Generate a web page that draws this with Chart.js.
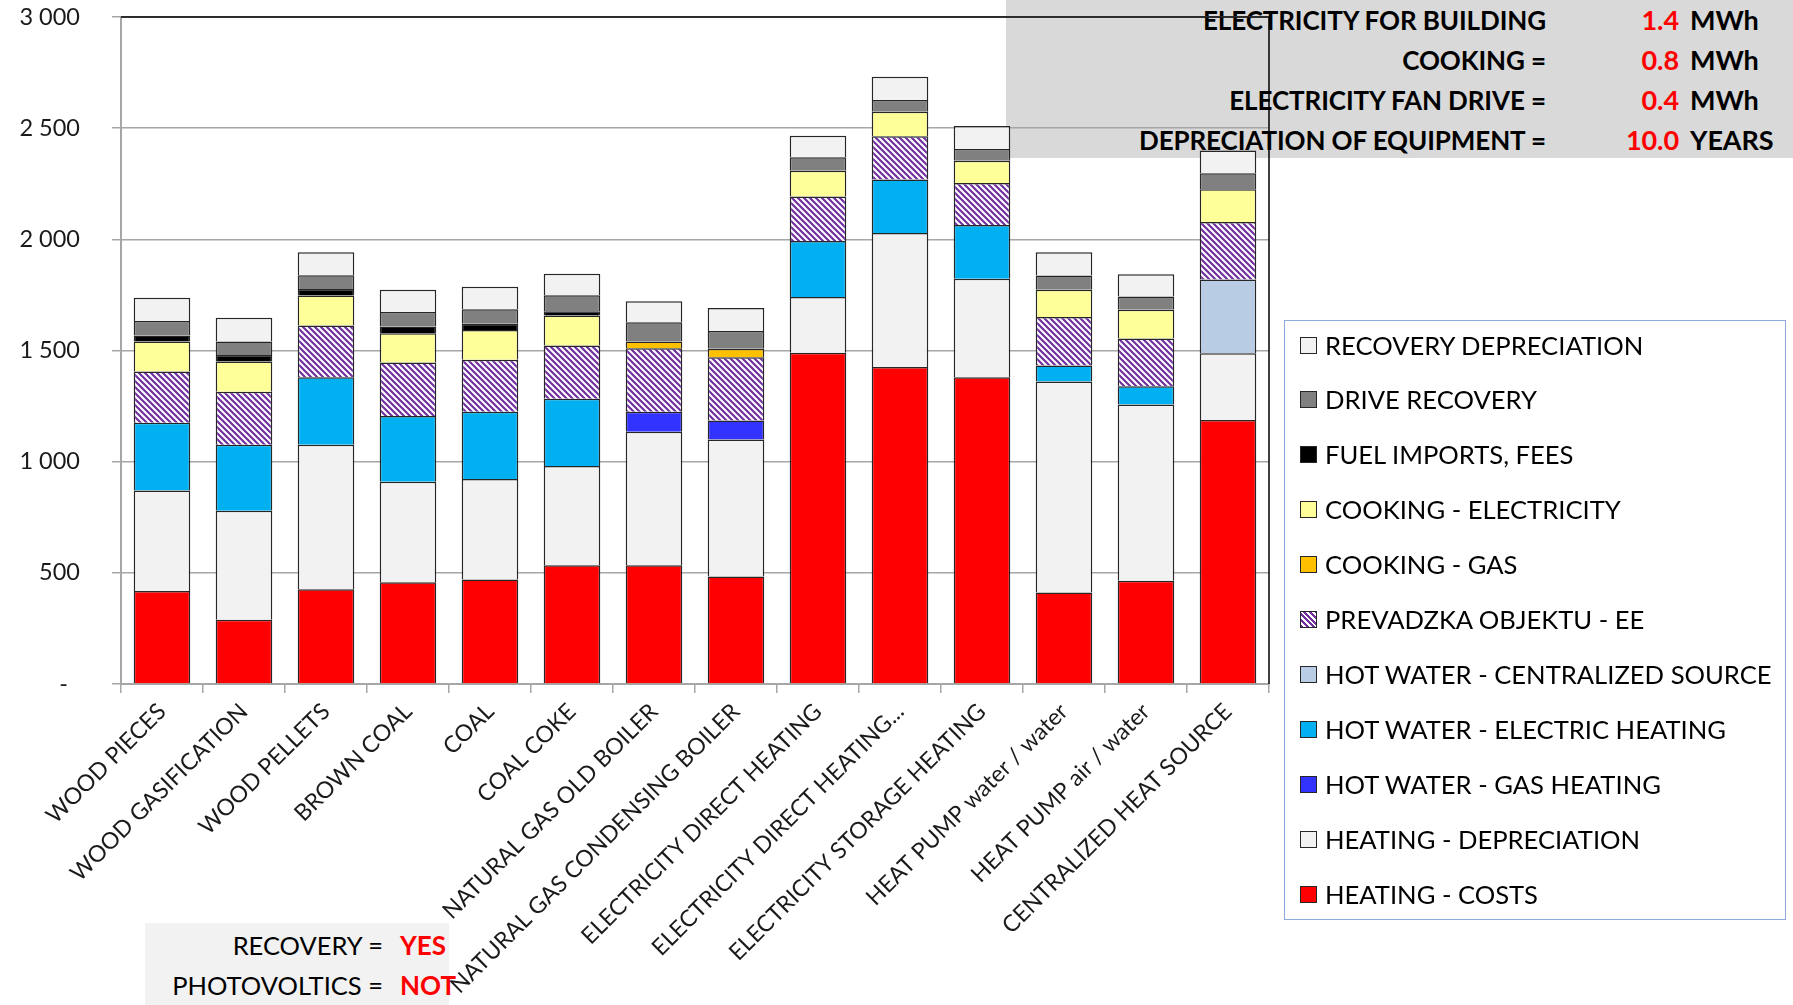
<!DOCTYPE html>
<html>
<head>
<meta charset="utf-8">
<title>Heating cost comparison</title>
<script src="https://cdn.jsdelivr.net/npm/chart.js"></script>
<style>
  body { margin: 0; background: #fff; }
  #wrap { position: relative; width: 1793px; height: 1005px; overflow: hidden; background: #fff; font-family: Lato, sans-serif; }
  #info { position: absolute; left: 1006px; top: 0; width: 787px; height: 158px; background: #d9d9d9; }
  #info .row { position: absolute; left: 0; width: 787px; height: 40px; line-height: 40px; font-weight: bold; font-size: 26px; letter-spacing: -0.1px; }
  #info .lab { position: absolute; right: 247px; color: #000; white-space: nowrap; }
  #info .val { position: absolute; right: 114px; color: #ff0000; font-size: 27px; }
  #info .unit { position: absolute; left: 684px; color: #000; font-size: 27px; }
  #opts { position: absolute; left: 145px; top: 923px; width: 304px; height: 82px; background: #f2f2f2; }
  #opts .row { position: absolute; left: 0; width: 304px; height: 40px; line-height: 40px; font-size: 25.5px; letter-spacing: 0; }
  #opts .lab { position: absolute; right: 66px; color: #000; white-space: nowrap; }
  #opts .val { position: absolute; left: 255px; color: #ff0000; font-weight: bold; font-size: 26px; }
  #chart { position: absolute; left: 0; top: 0; }
  #legend { position: absolute; left: 1284px; top: 320px; width: 500px; height: 598px; border: 1.5px solid #8eaadb; background: #fff; }
  #legend .item { position: absolute; left: 0; height: 55px; line-height: 55px; font-size: 25.6px; color: #000; white-space: nowrap; }
  #legend .box { position: absolute; left: 15px; top: 19px; width: 15px; height: 15px; border: 1px solid #262626; }
  #legend .txt { position: absolute; left: 40px; }
</style>
</head>
<body>
<div id="wrap">
  <div id="info"></div>
  <div id="opts"></div>
  <canvas id="chart" width="1793" height="1005"></canvas>
  <div id="legend"></div>
</div>
<script>
const categories = [
  "WOOD PIECES", "WOOD GASIFICATION", "WOOD PELLETS", "BROWN COAL", "COAL", "COAL COKE",
  "NATURAL GAS OLD BOILER", "NATURAL GAS CONDENSING BOILER", "ELECTRICITY DIRECT HEATING",
  "ELECTRICITY DIRECT HEATING...", "ELECTRICITY STORAGE HEATING", "HEAT PUMP water / water",
  "HEAT PUMP air / water", "CENTRALIZED HEAT SOURCE"
];

// stacked from the bottom up
const heatingCosts        = [418, 289, 426, 458, 470, 534, 534, 484, 1490, 1426, 1380, 412, 464, 1187];
const heatingDepreciation = [452, 490, 650, 452, 452, 446, 601, 616, 251, 602, 443, 949, 793, 301];
const hotWaterGas         = [null, null, null, null, null, null, 90, 85, null, null, null, null, null, null];
const hotWaterElectric    = [305, 297, 304, 295, 303, 303, null, null, 251, 241, 241, 71, 82, null];
const hotWaterCentral     = [null, null, null, null, null, null, null, null, null, null, null, null, null, 331];
const buildingOperation   = [231, 239, 232, 241, 233, 239, 285, 285, 201, 195, 189, 219, 215, 259];
const cookingGas          = [null, null, null, null, null, null, 30, 38, null, null, null, null, null, null];
const cookingElectricity  = [134, 135, 135, 132, 134, 135, null, null, 116, 110, 100, 122, 129, 147];
const fuelImports         = [28, 30, 30, 30, 28, 20, null, null, null, null, null, null, null, null];
const driveRecovery       = [65, 60, 62, 65, 65, 72, 87, 80, 60, 53, 53, 64, 60, 72];
const recoveryDepreciation = [104, 107, 103, 100, 102, 96, 94, 103, 97, 104, 104, 105, 100, 103];

const yTicks = [0, 500, 1000, 1500, 2000, 2500, 3000];

const infoLabels = ["ELECTRICITY FOR BUILDING", "COOKING =", "ELECTRICITY FAN DRIVE =", "DEPRECIATION OF EQUIPMENT ="];
const infoValues = ["1.4", "0.8", "0.4", "10.0"];
const infoUnits  = ["MWh", "MWh", "MWh", "YEARS"];
const optLabels = ["RECOVERY =", "PHOTOVOLTICS ="];
const optValues = ["YES", "NOT"];

// purple / white diagonal hatch
function makeHatch(g) {
  const c = document.createElement('canvas');
  c.width = 6; c.height = 6;
  const p = c.getContext('2d');
  p.fillStyle = '#ffffff';
  p.fillRect(0, 0, 6, 6);
  p.strokeStyle = '#7030a0';
  p.lineWidth = 2.2;
  p.beginPath();
  p.moveTo(-2, -2); p.lineTo(8, 8);
  p.moveTo(-2, 4); p.lineTo(2, 8);
  p.moveTo(4, -2); p.lineTo(8, 2);
  p.stroke();
  return g.createPattern(c, 'repeat');
}

const canvas = document.getElementById('chart');
const hatch = makeHatch(canvas.getContext('2d'));
const hatchCss = 'repeating-linear-gradient(45deg, #7030a0 0 2px, #fff 2px 4px)';

const series = [
  { label: "HEATING - COSTS", data: heatingCosts, color: '#ff0000' },
  { label: "HEATING - DEPRECIATION", data: heatingDepreciation, color: '#f2f2f2' },
  { label: "HOT WATER - GAS HEATING", data: hotWaterGas, color: '#3333ff' },
  { label: "HOT WATER - ELECTRIC HEATING", data: hotWaterElectric, color: '#00b0f0' },
  { label: "HOT WATER - CENTRALIZED SOURCE", data: hotWaterCentral, color: '#b8cce4' },
  { label: "PREVADZKA OBJEKTU - EE", data: buildingOperation, color: hatch, css: hatchCss },
  { label: "COOKING - GAS", data: cookingGas, color: '#ffc000' },
  { label: "COOKING - ELECTRICITY", data: cookingElectricity, color: '#ffff99' },
  { label: "FUEL IMPORTS, FEES", data: fuelImports, color: '#000000' },
  { label: "DRIVE RECOVERY", data: driveRecovery, color: '#808080' },
  { label: "RECOVERY DEPRECIATION", data: recoveryDepreciation, color: '#f2f2f2' }
];

const frame = {
  id: 'frame',
  afterDraw(chart) {
    const { ctx, chartArea: a } = chart;
    ctx.save();
    ctx.strokeStyle = '#000';
    ctx.lineWidth = 1.5;
    ctx.beginPath();
    ctx.moveTo(a.left, a.top);
    ctx.lineTo(a.right, a.top);
    ctx.lineTo(a.right, a.bottom);
    ctx.stroke();
    ctx.restore();
  }
};

const fmt = v => v === 0 ? '-  ' : String(v).replace(/\B(?=(\d{3})+(?!\d))/g, ' ');

new Chart(canvas, {
  type: 'bar',
  data: {
    labels: categories,
    datasets: series.map(s => ({
      label: s.label,
      data: s.data,
      backgroundColor: s.color,
      borderColor: '#262626',
      borderWidth: 1.5,
      categoryPercentage: 1,
      barPercentage: 0.69
    }))
  },
  options: {
    responsive: false,
    animation: false,
    layout: { padding: { left: 0, top: 17, right: 524, bottom: 0 } },
    plugins: { legend: { display: false }, tooltip: { enabled: false } },
    scales: {
      x: {
        stacked: true,
        grid: { display: true, drawOnChartArea: false, tickLength: 9, color: '#a6a6a6', lineWidth: 1.5, offset: true },
        border: { color: '#a6a6a6', width: 2 },
        ticks: { minRotation: 45, maxRotation: 45, autoSkip: false, color: '#1a1a1a', padding: 5, font: { family: 'Lato', size: 23 } },
        afterFit(s) { s.height = 321; }
      },
      y: {
        stacked: true,
        min: 0,
        max: 3000,
        afterBuildTicks(s) { s.ticks = yTicks.map(v => ({ value: v })); },
        ticks: { callback: fmt, color: '#1a1a1a', padding: 32, font: { family: 'Lato', size: 23.5 } },
        grid: { color: '#a6a6a6', lineWidth: 1.5, tickLength: 9 },
        border: { color: '#a6a6a6', width: 2 },
        afterFit(s) { s.width = 121; s.paddingTop = 14; s.paddingBottom = 14; }
      }
    }
  },
  plugins: [frame]
});

// info boxes
const info = document.getElementById('info');
infoLabels.forEach((t, i) => {
  const r = document.createElement('div');
  r.className = 'row';
  r.style.top = (0 + 40 * i) + 'px';
  r.innerHTML = '<span class="lab"></span><span class="val"></span><span class="unit"></span>';
  r.querySelector('.lab').textContent = t;
  r.querySelector('.val').textContent = infoValues[i];
  r.querySelector('.unit').textContent = infoUnits[i];
  info.appendChild(r);
});
const opts = document.getElementById('opts');
optLabels.forEach((t, i) => {
  const r = document.createElement('div');
  r.className = 'row';
  r.style.top = (2 + 40 * i) + 'px';
  r.innerHTML = '<span class="lab"></span><span class="val"></span>';
  r.querySelector('.lab').textContent = t;
  r.querySelector('.val').textContent = optValues[i];
  opts.appendChild(r);
});

// legend, top of stack first
const legend = document.getElementById('legend');
series.slice().reverse().forEach((s, i) => {
  const it = document.createElement('div');
  it.className = 'item';
  it.style.top = (-3.5 + 54.9 * i) + 'px';
  const b = document.createElement('span');
  b.className = 'box';
  b.style.background = s.css || s.color;
  const t = document.createElement('span');
  t.className = 'txt';
  t.textContent = s.label;
  it.appendChild(b);
  it.appendChild(t);
  legend.appendChild(it);
});
</script>
</body>
</html>
